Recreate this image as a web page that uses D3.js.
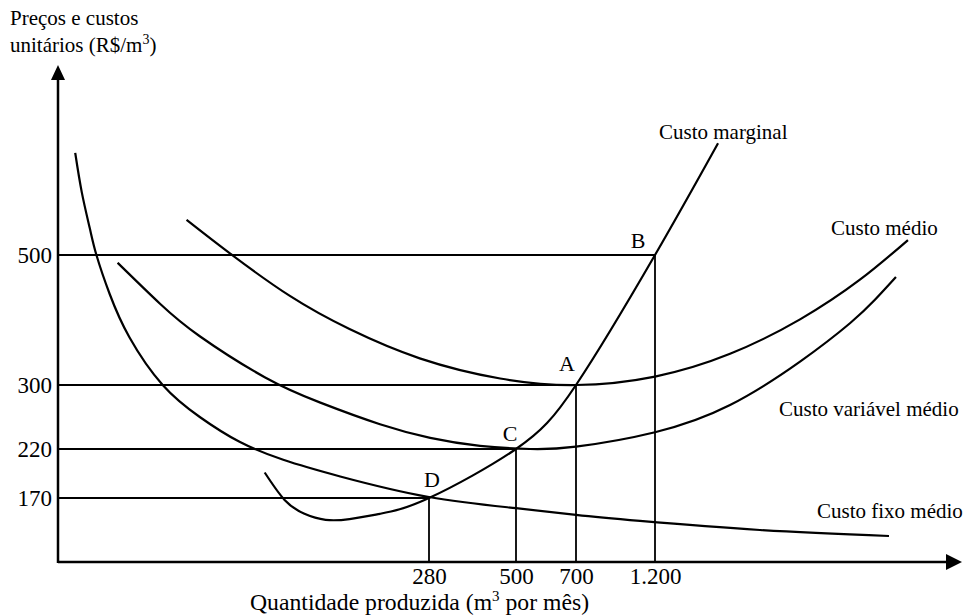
<!DOCTYPE html>
<html>
<head>
<meta charset="utf-8">
<script src="https://cdn.jsdelivr.net/npm/d3@7"></script>
<style>
  body { margin: 0; background: #fff; }
  svg { display: block; font-family: "Liberation Serif", "Times New Roman", serif; }
</style>
</head>
<body>
<div id="vis"></div>
<script>
// axis ticks
const xTickValues = [280, 500, 700, 1200];
const xTickLabels = ["280", "500", "700", "1.200"];
const yTickValues = [170, 220, 300, 500];

// marked points (quantity, price)
const pointLabels = ["A", "B", "C", "D"];
const pointQ = [700, 1200, 500, 280];
const pointP = [300, 500, 220, 170];

// curves
const curveNames = ["Custo marginal", "Custo médio", "Custo variável médio", "Custo fixo médio"];

const marginalQ = [156, 171, 186, 202, 220, 243, 280, 500, 700, 1200, 1599];
const marginalP = [196, 165, 128, 112, 114, 128, 170, 220, 300, 500, 672];

const medioQ = [97, 130, 175, 220, 273, 460, 700, 1200, 1675, 2118, 2497, 2801];
const medioP = [554, 502, 437, 386, 341, 310, 300, 313, 348, 401, 462, 523];

const variavelQ = [45, 77, 107, 156, 198, 243, 283, 409, 547, 700, 1200, 1675, 2118, 2434, 2592, 2725];
const variavelP = [488, 425, 375, 312, 278, 251, 234, 224, 220, 223, 241, 275, 336, 395, 431, 466];

const fixoQ = [13, 18, 24, 29, 39, 54, 79, 107, 137, 170, 213, 280, 500, 700, 1105, 1864, 2681];
const fixoP = [657, 596, 541, 500, 440, 373, 300, 260, 229, 209, 192, 171, 143, 125, 109, 85, 69];

window.addEventListener('load', function () {
  const svgWidth = 965, svgHeight = 616;
  const svg = d3.select("#vis").append("svg")
    .attr("width", svgWidth)
    .attr("height", svgHeight);

  // schematic axes: the tick values are not evenly spaced, so use piecewise scales
  const x = d3.scaleLinear()
    .domain([0].concat(xTickValues))
    .range([58, 429, 516, 576, 655]);
  const y = d3.scaleLinear()
    .domain([0].concat(yTickValues))
    .range([562, 498, 449, 385, 255]);

  const x0 = x(0), y0 = y(0);
  const xEnd = 962, yTop = 65;

  // guide lines to the marked points
  const points = pointLabels.map((l, i) => ({ label: l, q: pointQ[i], p: pointP[i] }));
  const guides = svg.append("g")
    .attr("stroke", "#000")
    .attr("stroke-width", 1.8);
  guides.selectAll("line.h")
    .data(points)
    .enter().append("line")
    .attr("class", "h")
    .attr("x1", x0).attr("x2", d => x(d.q))
    .attr("y1", d => y(d.p)).attr("y2", d => y(d.p));
  guides.selectAll("line.v")
    .data(points)
    .enter().append("line")
    .attr("class", "v")
    .attr("x1", d => x(d.q)).attr("x2", d => x(d.q))
    .attr("y1", d => y(d.p)).attr("y2", y0);

  // curves
  const curves = [
    [marginalQ, marginalP],
    [medioQ, medioP],
    [variavelQ, variavelP],
    [fixoQ, fixoP]
  ].map(([qs, ps]) => qs.map((q, i) => [q, ps[i]]));

  const line = d3.line()
    .x(d => x(d[0]))
    .y(d => y(d[1]))
    .curve(d3.curveNatural);

  svg.append("g").selectAll("path")
    .data(curves)
    .enter().append("path")
    .attr("d", line)
    .attr("fill", "none")
    .attr("stroke", "#000")
    .attr("stroke-width", 2.2);

  // axes (no tick marks, labels only)
  const xAxis = svg.append("g")
    .attr("transform", `translate(0,${y0})`)
    .call(d3.axisBottom(x)
      .tickValues(xTickValues)
      .tickFormat((d, i) => xTickLabels[i])
      .tickSize(0)
      .tickPadding(6));
  xAxis.select(".domain").remove();
  xAxis.selectAll("text")
    .attr("font-family", "Liberation Serif, Times New Roman, serif")
    .attr("font-size", 23)
    .attr("fill", "#000");

  const yAxis = svg.append("g")
    .attr("transform", `translate(${x0},0)`)
    .call(d3.axisLeft(y)
      .tickValues(yTickValues)
      .tickSize(0)
      .tickPadding(6));
  yAxis.select(".domain").remove();
  yAxis.selectAll("text")
    .attr("font-family", "Liberation Serif, Times New Roman, serif")
    .attr("font-size", 23)
    .attr("fill", "#000");

  // axis lines with arrow heads
  svg.append("line")
    .attr("x1", x0).attr("y1", y0)
    .attr("x2", xEnd - 12).attr("y2", y0)
    .attr("stroke", "#000").attr("stroke-width", 2.5);
  svg.append("line")
    .attr("x1", x0).attr("y1", y0 + 1)
    .attr("x2", x0).attr("y2", yTop + 12)
    .attr("stroke", "#000").attr("stroke-width", 2.5);
  svg.append("path")
    .attr("d", `M${xEnd},${y0}L${xEnd - 16},${y0 - 8}L${xEnd - 16},${y0 + 8}Z`)
    .attr("fill", "#000");
  svg.append("path")
    .attr("d", `M${x0},${yTop}L${x0 - 7},${yTop + 15}L${x0 + 7},${yTop + 15}Z`)
    .attr("fill", "#000");

  // point letters
  const letterOffset = { A: [-9, -14], B: [-17, -7], C: [-6, -8], D: [3, -11] };
  svg.append("g").selectAll("text")
    .data(points)
    .enter().append("text")
    .attr("x", d => x(d.q) + letterOffset[d.label][0])
    .attr("y", d => y(d.p) + letterOffset[d.label][1])
    .attr("text-anchor", "middle")
    .attr("font-size", 22)
    .text(d => d.label);

  // curve labels
  const curveLabelPos = [[659, 139], [831, 235], [779, 416], [817, 518]];
  svg.append("g").selectAll("text")
    .data(curveNames)
    .enter().append("text")
    .attr("x", (d, i) => curveLabelPos[i][0])
    .attr("y", (d, i) => curveLabelPos[i][1])
    .attr("font-size", 21)
    .text(d => d);

  // y axis title
  svg.append("text")
    .attr("x", 10).attr("y", 25)
    .attr("font-size", 21)
    .text("Preços e custos");
  const yTitle = svg.append("text")
    .attr("x", 10).attr("y", 52)
    .attr("font-size", 21);
  yTitle.append("tspan").text("unitários (R$/m");
  yTitle.append("tspan").attr("dy", -8).attr("font-size", 14).text("3");
  yTitle.append("tspan").attr("dy", 8).text(")");

  // x axis title
  const xTitle = svg.append("text")
    .attr("x", 250).attr("y", 610)
    .attr("font-size", 23.7);
  xTitle.append("tspan").text("Quantidade produzida (m");
  xTitle.append("tspan").attr("dy", -9).attr("font-size", 15).text("3");
  xTitle.append("tspan").attr("dy", 9).text(" por mês)");
});
</script>
</body>
</html>
